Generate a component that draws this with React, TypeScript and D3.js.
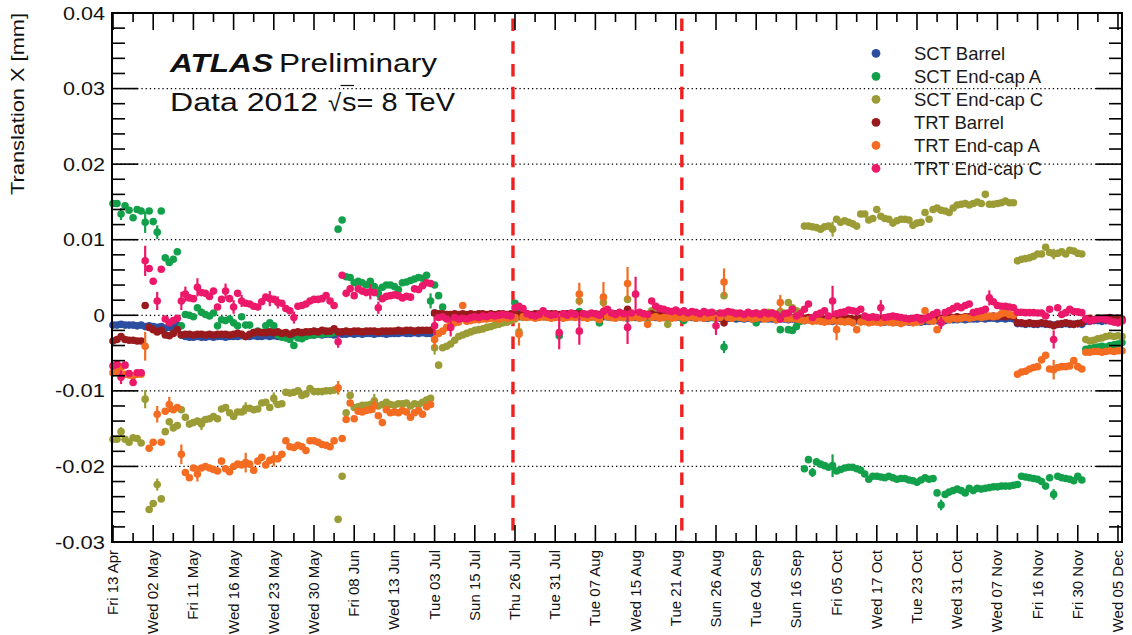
import React from 'react';
import * as d3 from 'd3';

// ---------- categories / ticks ----------
const dateLabels = [
  'Fri 13 Apr', 'Wed 02 May', 'Fri 11 May', 'Wed 16 May', 'Wed 23 May', 'Wed 30 May',
  'Fri 08 Jun', 'Wed 13 Jun', 'Tue 03 Jul', 'Sun 15 Jul', 'Thu 26 Jul', 'Tue 31 Jul',
  'Tue 07 Aug', 'Wed 15 Aug', 'Tue 21 Aug', 'Sun 26 Aug', 'Tue 04 Sep', 'Sun 16 Sep',
  'Fri 05 Oct', 'Wed 17 Oct', 'Tue 23 Oct', 'Wed 31 Oct', 'Wed 07 Nov', 'Fri 16 Nov',
  'Fri 30 Nov', 'Wed 05 Dec',
];
const runsPerLabel = 10;
const yTickValues = [-30, -20, -10, 0, 10, 20, 30, 40]; // in 1e-3 mm
const markerLines = [99.5, 141.5]; // run positions of red dashed lines

const legendNames = ['SCT Barrel', 'SCT End-cap A', 'SCT End-cap C', 'TRT Barrel', 'TRT End-cap A', 'TRT End-cap C'];
const seriesColors = ['#2b4ea0', '#13a04b', '#9c9c36', '#991a1d', '#f36c21', '#ec1869'];

// ---------- series values (units of 1e-3 mm), one per run ----------
const sctBarrel = [
  -1.3,-1.3,-1.2,-1.3,-1.3,-1.3,-1.4,-1.3,-1.5,-1.4,
  -1.5,-1.6,-1.5,-1.7,-1.6,-1.5,-1.3,-2.6,-2.8,-2.9,
  -2.9,-2.8,-2.9,-2.9,-2.8,-2.9,-2.8,-2.8,-2.9,-2.8,
  -2.8,-2.8,-2.7,-2.8,-2.8,-2.7,-2.8,-2.8,-2.7,-2.8,
  -2.7,-2.8,-2.7,-2.6,-2.7,-2.6,-2.6,-2.7,-2.6,-2.6,
  -2.6,-2.5,-2.6,-2.5,-2.5,-2.6,-2.3,-2.5,-2.5,-2.4,
  -2.5,-2.4,-2.5,-2.4,-2.4,-2.5,-2.4,-2.4,-2.5,-2.4,
  -2.4,-2.4,-2.3,-2.4,-2.4,-2.3,-2.4,-2.3,-2.4,-2.4,
  0.3,0.2,0.1,0.0,-0.1,0.0,-0.1,-0.1,-0.2,-0.1,
  -0.2,-0.1,-0.2,-0.1,-0.2,-0.2,-0.1,-0.2,-0.2,-0.1,
  -0.2,-0.2,-0.1,-0.2,-0.2,-0.1,-0.2,-0.2,-0.2,-0.1,
  -0.2,-0.1,-0.2,-0.2,-0.2,-0.1,-0.2,-0.2,-0.3,-0.2,
  -0.2,-0.3,-0.2,-0.2,-0.3,-0.2,-0.2,-0.3,-0.2,-0.3,
  -0.3,-0.2,-0.3,-0.3,-0.2,-0.3,-0.3,-0.3,-0.2,-0.3,
  -0.3,-0.3,-0.4,-0.3,-0.3,-0.4,-0.3,-0.4,-0.4,-0.3,
  -0.4,-0.4,-0.5,-0.4,-0.4,-0.5,-0.4,-0.5,-0.4,-0.5,
  -0.5,-0.5,-0.4,-0.5,-0.5,-0.6,-0.5,-0.5,-0.6,-0.5,
  -0.6,-0.6,-0.7,-0.6,-0.7,-0.7,-0.6,-0.7,-0.7,-0.8,
  -0.7,-0.8,-0.7,-0.8,-0.8,-0.7,-0.8,-0.8,-0.8,-0.7,
  -0.8,-0.8,-0.9,-0.8,-0.8,-0.9,-0.8,-0.8,-0.9,-0.8,
  -0.8,-0.9,-0.8,-0.8,-0.7,-0.7,-0.6,-0.7,-0.6,-0.6,
  -0.6,-0.5,-0.6,-0.5,-0.5,-0.5,-0.4,-0.5,-0.4,-0.4,
  -0.5,-0.4,-0.5,-0.4,-0.5,-1.1,-1.1,-1.2,-1.1,-1.2,
  -1.2,-1.1,-1.2,-1.2,-1.3,-1.2,-1.2,-1.1,-1.2,-1.2,
  -1.1,-1.2,-0.8,-0.8,-0.7,-0.7,-0.8,-0.7,-0.7,-0.6,
  -0.6,-0.7,
];

const sctEndcapA = [
  14.8,14.8,13.4,14.5,13.9,12.9,14.0,13.8,12.3,13.8,
  12.4,11.0,13.8,7.6,7.0,7.4,8.4,-1.4,0.1,0.0,
  -0.2,1.0,0.4,0.1,-0.1,0.3,-1.4,-0.6,-0.7,-0.5,
  -1.0,-1.4,-0.2,-1.3,-1.3,-2.3,-2.1,-2.3,-1.4,-1.0,
  -1.4,-2.6,-2.9,-3.0,-3.2,-4.0,-3.0,-3.1,-2.8,-2.6,
  -2.6,-2.5,-2.5,-2.4,-2.4,-2.3,11.4,12.6,5.1,5.0,
  4.3,4.5,4.3,4.0,4.5,3.8,2.9,3.7,4.0,4.0,
  3.8,3.4,4.3,4.4,4.6,4.8,5.0,4.9,5.3,1.9,
  4.0,2.6,1.1,0.1,-0.1,-0.3,-0.2,-0.4,-0.3,-0.2,
  -0.3,-0.2,-0.1,-0.3,-0.2,-0.2,-0.1,-0.2,0.0,-0.1,
  1.6,0.3,0.1,-0.1,0.0,-0.2,-0.1,0.0,-0.2,-0.1,
  -0.3,-2.7,-0.2,-0.1,0.0,-0.2,0.5,-0.1,-0.3,-0.2,
  -0.1,-1.0,0.2,-0.2,-0.1,-0.3,-0.2,0.0,-0.4,-0.2,
  -0.1,-0.3,-0.2,-0.5,-0.1,0.0,-0.2,-0.1,-0.3,-0.2,
  -0.1,-0.2,-0.7,-0.1,-0.2,-0.3,-0.2,-0.1,-0.2,-0.3,
  -0.2,-0.3,-4.2,-0.2,-0.1,-0.3,-0.2,-0.1,-0.2,-0.3,
  -1.0,-0.2,-0.1,-0.3,-0.2,-0.4,-1.9,-0.3,-1.9,-2.0,
  -1.5,-0.8,-20.3,-19.1,-20.8,-19.4,-19.7,-19.9,-20.1,-19.9,
  -20.6,-20.4,-20.2,-20.1,-20.1,-20.3,-20.5,-21.0,-21.7,-21.3,
  -21.3,-21.4,-21.5,-21.3,-21.5,-21.7,-21.6,-21.6,-21.8,-21.9,
  -22.1,-21.8,-21.5,-21.7,-21.6,-23.5,-25.1,-23.7,-23.4,-23.2,
  -23.0,-23.2,-23.5,-22.9,-23.2,-22.9,-23.0,-22.9,-22.8,-22.7,
  -22.7,-22.6,-22.6,-22.6,-22.5,-22.4,-21.3,-21.4,-21.5,-21.6,
  -21.7,-22.0,-22.6,-21.5,-23.7,-21.3,-21.5,-21.6,-21.7,-21.9,
  -21.3,-21.8,-4.5,-4.4,-4.3,-4.2,-4.1,-4.2,-4.0,-3.9,
  -3.8,-3.6,
];

const sctEndcapC = [
  -16.4,-16.4,-15.4,-16.4,-16.8,-16.2,-16.3,-16.9,-11.1,-25.7,
  -24.9,-22.4,-24.3,-15.4,-14.1,-14.9,-14.6,-12.5,-13.5,-14.4,
  -14.2,-14.0,-14.4,-13.8,-13.7,-13.4,-13.7,-12.4,-12.2,-12.9,
  -13.4,-12.8,-12.8,-12.3,-12.3,-12.5,-12.4,-11.6,-11.5,-12.2,
  -11.0,-11.8,-11.7,-10.2,-10.3,-10.2,-10.0,-10.6,-10.4,-9.7,
  -10.1,-10.1,-10.1,-10.0,-10.0,-9.9,-27.0,-21.3,-12.9,-10.6,
  -12.2,-12.1,-11.9,-11.9,-11.8,-11.3,-12.0,-11.8,-11.5,-11.8,
  -11.9,-11.7,-11.7,-11.6,-12.0,-11.7,-11.8,-11.5,-11.2,-11.0,
  -4.3,-6.6,-4.3,-4.1,-3.8,-3.3,-2.8,-2.6,-2.4,-2.2,
  -2.0,-1.9,-1.8,-1.6,-1.5,-1.3,-1.2,-1.0,-0.9,-0.7,
  -0.5,-2.2,-0.3,-0.2,-0.1,-0.2,0.0,-0.1,0.1,0.0,
  -0.1,0.0,0.1,-0.1,0.0,0.1,1.9,0.0,0.1,-0.1,
  0.0,0.1,1.7,0.0,0.1,0.2,0.0,0.1,2.1,0.2,
  0.1,0.0,0.2,0.1,0.6,0.3,0.2,0.1,-1.2,0.2,
  0.1,0.2,0.3,0.1,0.2,0.3,0.2,0.1,0.2,0.3,
  0.2,0.1,2.6,0.2,0.1,0.3,0.2,0.1,0.3,0.2,
  0.3,0.2,0.1,0.4,0.3,0.2,0.5,0.3,1.7,1.0,
  0.6,0.4,11.8,11.8,11.7,11.6,11.4,11.7,11.8,11.4,
  12.7,12.3,12.5,12.3,12.1,11.8,13.4,13.4,12.6,12.8,
  14.0,13.1,12.8,12.7,12.2,12.5,12.7,12.7,12.6,11.9,
  12.2,12.3,13.6,12.7,14.0,14.2,13.9,13.8,13.6,14.2,
  14.6,14.7,14.8,14.6,14.8,15.0,14.8,16.0,14.7,14.7,
  14.8,14.9,15.1,14.9,14.9,7.2,7.4,7.5,7.6,7.8,
  8.1,8.1,9.0,8.3,8.1,8.2,8.4,8.1,8.6,8.5,
  8.2,8.1,-3.2,-3.4,-3.3,-3.1,-3.0,-2.8,-2.7,-2.8,
  -2.7,-2.8,
];

const trtBarrel = [
  -3.4,-3.2,-2.8,-3.2,-3.3,-3.3,-3.4,-3.4,1.3,-1.6,
  -1.9,-2.2,-2.0,-2.6,-2.7,-2.4,-1.9,-2.6,-2.5,-2.5,
  -2.6,-2.5,-2.5,-2.6,-2.5,-2.6,-2.5,-2.5,-2.5,-2.6,
  -2.5,-2.4,-2.5,-2.8,-2.5,-2.3,-2.2,-2.3,-2.3,-2.2,
  -2.3,-2.2,-2.4,-2.3,-2.5,-2.3,-2.2,-2.3,-2.2,-2.2,
  -2.1,-2.2,-2.0,-2.1,-2.1,-1.8,-2.2,-2.2,-2.1,-2.2,
  -2.1,-2.1,-2.2,-2.1,-2.1,-2.1,-2.2,-2.1,-2.1,-2.1,
  -2.1,-2.0,-2.1,-2.0,-2.0,-2.1,-2.0,-2.0,-2.0,-2.0,
  0.3,0.2,0.2,0.1,0.1,0.2,0.1,0.2,0.1,0.2,
  0.1,0.2,0.2,0.1,0.2,0.1,0.2,0.2,0.1,0.2,
  0.2,0.1,0.2,0.2,0.1,0.2,0.2,0.1,0.2,0.2,
  0.2,0.1,0.2,0.2,0.1,0.2,0.2,0.2,0.1,0.2,
  0.2,0.1,0.2,0.1,0.2,0.2,0.1,0.2,0.8,0.2,
  0.1,0.2,0.1,0.1,0.2,0.0,0.1,0.1,0.0,0.1,
  0.0,0.1,0.0,-0.1,0.0,0.0,-0.1,0.0,-0.1,-0.1,
  -0.1,-0.2,-1.0,-0.1,-0.2,-0.1,-0.2,-0.2,-0.1,-0.2,
  -0.2,-0.2,-0.3,-0.2,-0.3,-0.2,-0.3,-0.3,-0.2,-0.3,
  -0.3,-0.3,-0.4,-0.3,-0.4,-0.4,-0.3,-0.5,-0.4,-0.5,
  -0.4,-0.5,-0.5,-0.4,-0.5,-0.5,-0.4,-0.5,-0.5,-0.6,
  -0.5,-0.5,-0.6,-0.5,-0.6,-0.5,-0.5,-0.6,-0.5,-0.5,
  -0.5,-0.4,-0.5,-0.4,-0.4,-0.3,-0.4,-0.3,-0.3,-0.3,
  -0.2,-0.3,-0.2,-0.2,-0.2,-0.1,-0.2,-0.1,-0.2,-0.1,
  -0.2,-0.1,-0.2,-0.1,-0.2,-1.0,-1.0,-1.1,-1.0,-1.1,
  -1.1,-1.0,-1.1,-1.2,-1.4,-1.2,-1.1,-1.0,-1.1,-1.2,
  -1.1,-1.0,-0.5,-0.4,-0.6,-0.4,-0.5,-0.4,-0.3,-0.5,
  -0.4,-0.5,
];

const trtEndcapA = [
  -7.6,-7.4,-6.9,-7.8,-7.9,-8.0,-7.8,-7.8,-4.1,-17.6,
  -16.8,-13.1,-16.8,-12.7,-11.8,-12.5,-12.2,-18.4,-20.8,-21.5,
  -20.2,-21.0,-20.2,-20.0,-20.2,-20.4,-20.6,-19.3,-20.3,-20.7,
  -20.0,-19.7,-19.8,-19.5,-19.7,-20.5,-19.3,-18.8,-19.8,-19.2,
  -19.0,-19.0,-18.4,-16.6,-17.4,-17.5,-17.2,-17.4,-17.9,-16.6,
  -16.6,-16.8,-17.1,-17.2,-17.4,-16.6,-9.6,-16.3,-13.8,-11.6,
  -13.7,-12.7,-12.8,-12.6,-12.5,-12.0,-13.3,-14.2,-12.5,-12.9,
  -12.8,-12.9,-12.6,-12.8,-13.5,-12.9,-12.6,-13.1,-12.1,-11.8,
  -3.2,-2.4,-2.1,-1.6,-1.2,-1.0,-0.9,1.3,-0.8,-0.7,
  -0.6,-0.6,-0.5,-0.5,-0.4,-0.4,-0.5,-0.3,-0.4,-0.3,
  -0.3,-2.5,-0.2,-0.3,-0.2,-0.4,-0.3,-0.2,-0.3,-0.4,
  -0.3,-0.2,-0.4,-0.3,-0.2,-0.3,2.8,-0.3,-0.4,-0.2,
  -0.3,-0.6,2.4,-0.2,-0.3,-0.4,-0.2,-0.3,4.2,-0.3,
  -0.2,-0.4,-0.3,-1.2,-0.3,-0.2,-0.4,-0.3,-0.2,-0.4,
  -0.3,-0.2,-0.4,-0.3,-0.2,-0.4,-0.3,-0.4,-0.3,-0.2,
  -0.4,-0.3,4.4,-0.3,-0.4,-0.2,-0.3,-0.4,-0.3,-0.5,
  -0.4,-0.3,-0.5,-0.4,-0.3,-0.6,1.7,-0.4,-0.5,-0.4,
  -0.5,-0.6,-0.7,-0.6,-0.8,-0.7,-0.8,-0.9,-0.8,-0.7,
  -1.9,-0.8,-0.9,-0.8,-1.0,-1.9,-0.9,-0.8,-1.0,-0.9,
  -0.9,-1.0,-0.8,-0.9,-1.0,-0.9,-1.1,-0.9,-0.8,-1.0,
  -0.9,-0.8,0.6,-0.7,-0.8,-1.9,-0.6,-0.5,-0.6,-0.4,
  -0.5,-0.4,-0.3,-0.4,-0.3,-0.2,-0.3,-0.2,-0.1,-0.2,
  -0.1,0.2,0.35,0.1,0.0,-7.8,-7.5,-7.4,-7.1,-6.9,
  -6.8,-5.9,-5.3,-7.1,-7.2,-6.9,-6.8,-6.8,-6.7,-6.0,
  -6.8,-7.1,-4.9,-4.9,-4.8,-4.8,-4.9,-4.8,-4.7,-4.8,
  -4.7,-4.7,
];

const trtEndcapC = [
  -6.7,-6.5,-8.2,-6.6,-7.7,-8.9,-7.6,-7.6,7.2,6.2,
  4.5,1.9,6.1,-0.5,-1.0,-0.7,-0.4,1.9,2.8,2.3,
  2.2,3.7,3.0,2.9,2.5,3.2,1.1,2.1,3.2,2.2,
  1.1,2.9,1.9,1.6,1.5,1.2,1.1,1.8,2.4,2.2,
  2.1,1.7,1.6,0.9,0.6,-0.3,1.2,1.3,1.5,1.9,
  2.1,2.1,2.2,2.6,1.9,1.3,-3.5,5.3,2.9,3.5,
  2.6,3.5,3.2,3.0,3.1,3.0,1.0,2.2,2.5,2.6,
  2.7,2.6,2.3,2.5,2.4,3.5,3.4,3.9,4.3,4.2,
  -1.4,-0.3,-0.2,-0.5,-1.6,-0.3,-0.5,-0.4,-0.5,-0.3,
  -0.2,-0.3,-0.1,-0.2,0.0,-0.1,0.0,0.1,0.0,-0.1,
  1.0,1.2,0.9,0.2,0.0,-0.1,0.1,0.6,0.2,0.0,
  0.1,-2.3,0.2,0.0,0.3,0.1,-2.1,0.2,0.1,0.3,
  0.2,0.0,0.5,0.8,0.3,0.1,0.4,0.2,-1.6,0.3,
  2.8,0.4,0.2,0.1,1.9,1.2,0.9,0.8,0.6,0.5,
  0.7,0.4,0.6,0.3,0.5,0.4,0.2,0.5,0.3,0.4,
  -1.4,0.3,0.3,0.5,0.4,0.2,0.3,0.1,0.4,0.2,
  0.3,0.1,0.4,0.2,0.3,0.1,-0.5,0.2,0.3,0.8,
  -0.1,0.2,0.8,1.5,-0.3,0.1,0.3,0.6,-0.1,1.9,
  0.2,0.35,0.45,0.7,0.6,0.5,0.8,-0.1,-0.3,-0.2,
  -0.3,1.0,-0.3,-0.2,-0.1,-0.2,-0.3,-0.4,-0.5,-0.4,
  -0.3,-0.6,-0.4,-0.2,0.1,0.35,-1.0,0.35,0.6,0.9,
  1.2,1.0,1.3,1.5,0.35,0.5,0.6,0.8,2.3,1.8,
  1.3,1.2,1.2,1.1,1.0,0.4,0.4,0.35,0.35,0.35,
  0.3,0.3,-0.1,0.8,-3.2,1.0,0.1,0.35,0.8,0.5,
  0.45,0.35,-0.5,-0.75,-0.6,-0.5,-0.45,-0.6,-0.75,-0.9,
  -1.0,-0.75,
];

// ---------- error bars: [run, half-length] (1e-3 mm) ----------
const errSctBarrel: [number, number][] = [];
const errSctEndcapA: [number, number][] = [[2,0.8],[8,1.4],[11,0.9],[66,0.9],[79,1.0],[152,0.8],[174,0.6],[179,1.5],[206,0.7],[234,0.7]];
const errSctEndcapC: [number, number][] = [[2,0.6],[8,1.2],[11,0.8],[22,0.8],[33,0.8],[40,0.8],[65,0.9],[80,0.9],[179,1.0],[234,0.7]];
const errTrtBarrel: [number, number][] = [];
const errTrtEndcapA: [number, number][] = [[2,0.6],[8,1.9],[11,1.1],[14,1.0],[17,1.3],[21,1.0],[33,1.3],[40,1.0],[56,0.9],[65,0.9],[80,1.2],[101,1.5],[116,1.5],[122,2.0],[128,2.2],[152,1.8],[166,1.0],[180,1.4],[234,1.3]];
const errTrtEndcapC: [number, number][] = [[2,0.9],[8,2.0],[11,1.2],[17,1.2],[18,1.0],[21,1.2],[28,1.0],[30,0.9],[32,0.8],[39,1.0],[41,0.8],[45,0.8],[56,0.8],[64,1.0],[66,0.8],[80,1.2],[84,1.2],[111,2.2],[116,1.8],[128,2.2],[130,2.3],[150,1.2],[179,2.0],[191,1.0],[206,0.8],[218,1.0],[234,1.2]];

const W = 1132;
const H = 635;
const F = { left: 112, right: 1122, top: 13, bottom: 542 };
const FONT = '"Liberation Sans", Arial, Helvetica, sans-serif';

function yLabelWidth(s: string): number {
  let w = 0;
  for (const c of s) w += c === '.' ? 7.8 : c === '-' ? 8 : 11.4;
  return w;
}

export default function App() {
  const x = d3.scaleLinear().domain([-0.25, 251]).range([F.left, F.right]);
  const y = d3.scaleLinear().domain([-30, 40]).range([F.bottom, F.top]);

  const series = [
    { values: sctBarrel, errors: errSctBarrel },
    { values: sctEndcapA, errors: errSctEndcapA },
    { values: sctEndcapC, errors: errSctEndcapC },
    { values: trtBarrel, errors: errTrtBarrel },
    { values: trtEndcapA, errors: errTrtEndcapA },
    { values: trtEndcapC, errors: errTrtEndcapC },
  ].map((s, k) => ({ ...s, name: legendNames[k], color: seriesColors[k] }));

  const majorX = dateLabels.map((_, k) => k * runsPerLabel);
  const minorX = d3.range(runsPerLabel / 2, (dateLabels.length - 1) * runsPerLabel, runsPerLabel);
  const minorY = d3.range(-30, 41, 2).filter((v) => v % 10 !== 0);
  const gridY = yTickValues.filter((v) => v > -30 && v < 40);

  const tickColor = '#000';
  const tw = 1.6;

  return (
    <div style={{ position: 'absolute', left: 0, top: 0 }}>
      <svg width={W} height={H} viewBox={`0 0 ${W} ${H}`} style={{ display: 'block', background: '#fff' }}>
        <rect x={0} y={0} width={W} height={H} fill="#fff" />

        {/* dotted grid */}
        {gridY.map((v) => (
          <line key={'g' + v} x1={F.left} x2={F.right} y1={y(v)} y2={y(v)}
            stroke="#000" strokeWidth={1.2} strokeDasharray="1.3 2.9" />
        ))}

        {/* red dashed lines */}
        {markerLines.map((r) => (
          <line key={'r' + r} x1={x(r)} x2={x(r)} y1={F.top} y2={F.bottom}
            stroke="#ee2020" strokeWidth={3.4} strokeDasharray="12.5 10.2" strokeDashoffset={17.1} />
        ))}

        {/* data */}
        {series.map((s) => (
          <g key={s.name} fill={s.color} stroke={s.color}>
            {s.errors.map(([r, e]) => {
              const v = s.values[r];
              return (
                <line key={'e' + r} x1={x(r)} x2={x(r)} y1={y(v - e)} y2={y(v + e)} strokeWidth={2.2} />
              );
            })}
            {s.values.map((v, r) =>
              v === null || v === undefined ? null : (
                <circle key={r} cx={x(r)} cy={y(v)} r={3.8} stroke="none" />
              )
            )}
          </g>
        ))}

        {/* x ticks bottom & top */}
        {majorX.map((r) => (
          <g key={'mx' + r} stroke={tickColor} strokeWidth={tw}>
            <line x1={x(r)} x2={x(r)} y1={F.bottom} y2={F.bottom - 17} />
            <line x1={x(r)} x2={x(r)} y1={F.top} y2={F.top + 17} />
          </g>
        ))}
        {minorX.map((r) => (
          <g key={'nx' + r} stroke={tickColor} strokeWidth={tw}>
            <line x1={x(r)} x2={x(r)} y1={F.bottom} y2={F.bottom - 9} />
            <line x1={x(r)} x2={x(r)} y1={F.top} y2={F.top + 9} />
          </g>
        ))}

        {/* y ticks left & right */}
        {yTickValues.map((v) => (
          <g key={'my' + v} stroke={tickColor} strokeWidth={tw}>
            <line x1={F.left} x2={F.left + 26} y1={y(v)} y2={y(v)} />
            <line x1={F.right} x2={F.right - 26} y1={y(v)} y2={y(v)} />
          </g>
        ))}
        {minorY.map((v) => (
          <g key={'ny' + v} stroke={tickColor} strokeWidth={tw}>
            <line x1={F.left} x2={F.left + 13} y1={y(v)} y2={y(v)} />
            <line x1={F.right} x2={F.right - 13} y1={y(v)} y2={y(v)} />
          </g>
        ))}

        {/* frame */}
        <rect x={F.left} y={F.top} width={F.right - F.left} height={F.bottom - F.top}
          fill="none" stroke="#000" strokeWidth={2} />

        {/* y tick labels */}
        {yTickValues.map((v) => {
          const s = String(v / 1000);
          return (
            <text key={'yl' + v} x={105} y={y(v) + 6.5} textAnchor="end" fontFamily={FONT}
              fontSize={18.5} fill="#111" textLength={yLabelWidth(s)} lengthAdjust="spacingAndGlyphs">
              {s}
            </text>
          );
        })}

        {/* x tick labels */}
        {majorX.map((r, k) => (
          <text key={'xl' + r} transform={`translate(${x(r) + 5},550) rotate(-90)`} textAnchor="end"
            fontFamily={FONT} fontSize={15} fill="#111">
            {dateLabels[k]}
          </text>
        ))}

        {/* y axis title */}
        <text transform="translate(24,13) rotate(-90)" textAnchor="end" fontFamily={FONT} fontSize={19}
          fill="#111" textLength={182} lengthAdjust="spacingAndGlyphs">
          Translation X [mm]
        </text>

        {/* ATLAS label */}
        <text x={170} y={72} fontFamily={FONT} fontSize={26} fontWeight="bold" fontStyle="italic" fill="#111"
          textLength={103} lengthAdjust="spacingAndGlyphs">ATLAS</text>
        <text x={279} y={72} fontFamily={FONT} fontSize={26} fill="#111"
          textLength={158} lengthAdjust="spacingAndGlyphs">Preliminary</text>
        <text x={170} y={110.5} fontFamily={FONT} fontSize={26} fill="#111"
          textLength={148} lengthAdjust="spacingAndGlyphs">Data 2012</text>
        <text x={328} y={110.5} fontFamily={FONT} fontSize={24} fill="#111">√</text>
        <line x1={340.5} x2={354} y1={85.5} y2={85.5} stroke="#111" strokeWidth={1.2} />
        <text x={342} y={110.5} fontFamily={FONT} fontSize={26} fill="#111"
          textLength={113} lengthAdjust="spacingAndGlyphs">s= 8 TeV</text>

        {/* legend */}
        {series.map((s, k) => (
          <g key={'lg' + k}>
            <circle cx={876} cy={53.3 + k * 23} r={4.4} fill={s.color} />
            <text x={914} y={53.3 + k * 23 + 6.6} fontFamily={FONT} fontSize={18.5} fill="#1a1a1a">{s.name}</text>
          </g>
        ))}
      </svg>
    </div>
  );
}
